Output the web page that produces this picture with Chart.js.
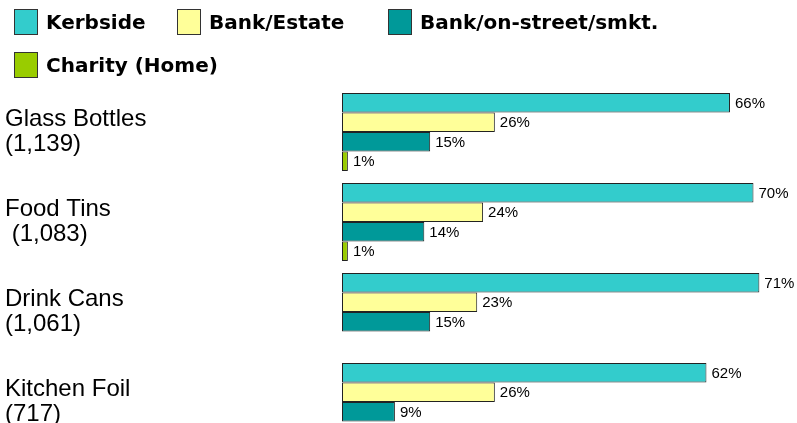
<!DOCTYPE html>
<html>
<head>
<meta charset="utf-8">
<script src="https://cdn.jsdelivr.net/npm/chart.js@4/dist/chart.umd.min.js"></script>
<style>
  html, body { margin: 0; padding: 0; background: #fff; overflow: hidden; }
  #wrap { position: relative; width: 797px; height: 450px; }
  #chart { position: absolute; left: 0; top: 0; }
  #legend {
    position: absolute; left: 14px; top: 9px;
    display: grid; grid-template-columns: 163px 211px auto;
    grid-auto-rows: 26px; row-gap: 17px;
    font: bold 20px "DejaVu Sans", sans-serif; color: #000;
  }
  .item { display: flex; align-items: center; white-space: nowrap; }
  .swatch { flex: 0 0 auto; width: 22px; height: 24px; border: 1px solid #333; margin-right: 8px; }
</style>
</head>
<body>
<div id="wrap">
  <canvas id="chart" width="797" height="450"></canvas>
  <div id="legend"></div>
</div>
<script>
// categories (two-line axis labels: material + number of responses)
const categories = [
  ['Glass Bottles', '(1,139)'],
  ['Food Tins', ' (1,083)'],
  ['Drink Cans', '(1,061)'],
  ['Kitchen Foil', '(717)']
];

// % of respondents using each collection method
const kerbside    = [66, 70, 71, 62];
const bankEstate  = [26, 24, 23, 26];
const bankStreet  = [15, 14, 15, 9];
const charityHome = [1, 1, null, null];

const seriesNames   = ['Kerbside', 'Bank/Estate', 'Bank/on-street/smkt.', 'Charity (Home)'];
const seriesValues  = [kerbside, bankEstate, bankStreet, charityHome];
const seriesColours = ['#33CCCC', '#FFFF99', '#009999', '#99CC00'];

// write "NN%" just past the end of each bar
const valueLabels = {
    id: 'valueLabels',
    afterDatasetsDraw(chart) {
        const ctx = chart.ctx;
        ctx.save();
        ctx.font = '15px "Liberation Sans", Arial, sans-serif';
        ctx.fillStyle = '#000';
        ctx.textBaseline = 'middle';
        ctx.textAlign = 'left';
        chart.data.datasets.forEach((ds, i) => {
            chart.getDatasetMeta(i).data.forEach((bar, j) => {
                const v = ds.data[j];
                if (v === null) return;
                ctx.fillText(v + '%', bar.x + 5, bar.y + 1);
            });
        });
        ctx.restore();
    }
};

const chart = new Chart(document.getElementById('chart'), {
    type: 'bar',
    data: {
        labels: categories,
        datasets: seriesNames.map((name, i) => ({
            label: name,
            data: seriesValues[i],
            backgroundColor: seriesColours[i],
            borderColor: '#222',
            borderWidth: 1,
            borderSkipped: false,
            barPercentage: 1.0,
            categoryPercentage: 0.867
        }))
    },
    options: {
        indexAxis: 'y',
        responsive: false,
        animation: false,
        // canvas is taller than the page, so the last slot runs off the bottom
        layout: { padding: { top: 87, left: 5, right: 20, bottom: 3 } },
        plugins: {
            legend: { display: false }, // legend is built as html below
            tooltip: { enabled: false }
        },
        scales: {
            x: { display: false, min: 0, max: 74 },
            y: {
                grid: { display: false },
                border: { display: false },
                ticks: {
                    crossAlign: 'far',
                    color: '#000',
                    font: { family: '"Liberation Sans", Arial, sans-serif', size: 24, lineHeight: 1.06 }
                },
                afterFit: scale => {
                    scale.width = 337;      // plot starts at x=342
                    scale.paddingTop = 0;   // don't shrink the plot for label overhang
                    scale.paddingBottom = 0;
                }
            }
        }
    },
    plugins: [valueLabels]
});

// html legend from the chart's datasets
const legendEl = document.getElementById('legend');
chart.data.datasets.forEach(ds => {
    const item = document.createElement('div');
    item.className = 'item';
    const sw = document.createElement('span');
    sw.className = 'swatch';
    sw.style.background = ds.backgroundColor;
    const txt = document.createElement('span');
    txt.textContent = ds.label;
    item.appendChild(sw);
    item.appendChild(txt);
    legendEl.appendChild(item);
});
</script>
</body>
</html>
